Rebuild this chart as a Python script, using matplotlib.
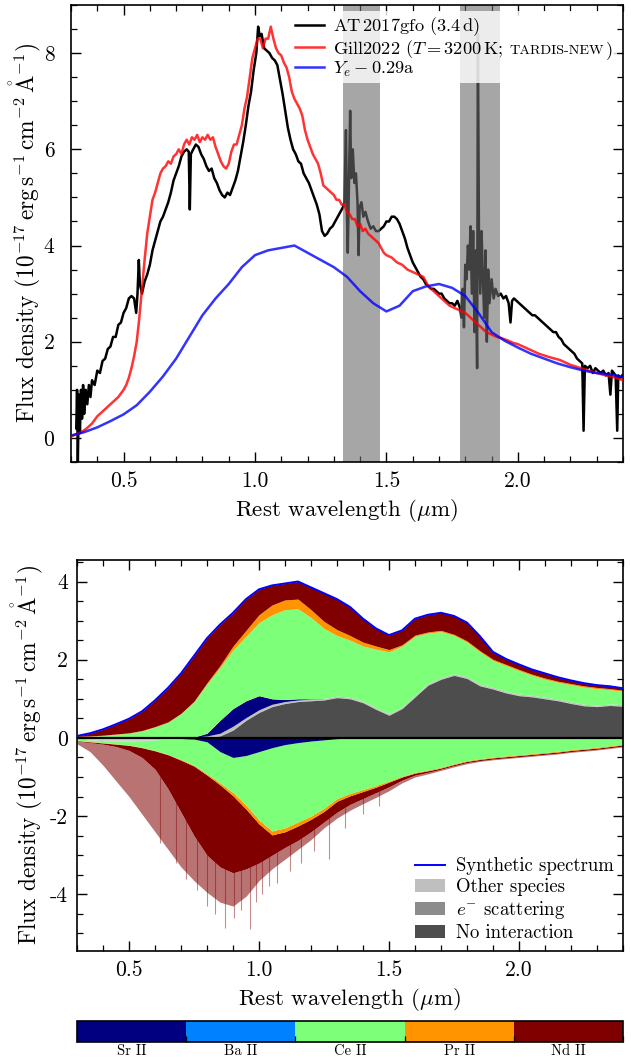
import numpy as np
import matplotlib
matplotlib.use("Agg")
import matplotlib.pyplot as plt
from matplotlib.colors import ListedColormap, BoundaryNorm
from matplotlib.cm import ScalarMappable
from matplotlib.lines import Line2D
from matplotlib.patches import Patch
from matplotlib.ticker import MultipleLocator
from matplotlib.offsetbox import TextArea, HPacker

plt.rcParams.update({
    "font.family": "serif",
    "font.serif": ["cmr10"],
    "mathtext.fontset": "cm",
    "axes.unicode_minus": False,
    "axes.linewidth": 1.2,
    "xtick.direction": "in",
    "ytick.direction": "in",
    "xtick.top": True,
    "ytick.right": True,
    "xtick.major.size": 7,
    "ytick.major.size": 7,
    "xtick.minor.size": 4,
    "ytick.minor.size": 4,
    "xtick.major.width": 1.0,
    "ytick.major.width": 1.0,
    "xtick.minor.width": 0.9,
    "ytick.minor.width": 0.9,
})

# ---------------- top panel data ----------------
obs = [(0.320, 0.2), (0.323, 1.0), (0.326, -0.5), (0.330, 0.9), (0.334, 0.1), (0.338, 1.0),
       (0.342, 0.4), (0.346, 1.1), (0.350, 0.5), (0.356, 1.0), (0.362, 0.7), (0.368, 1.1),
       (0.374, 0.85), (0.380, 1.2), (0.390, 1.1), (0.400, 1.4), (0.410, 1.35), (0.420, 1.6),
       (0.430, 1.65), (0.440, 1.85), (0.450, 1.9), (0.460, 2.1), (0.470, 2.1), (0.480, 2.35),
       (0.490, 2.4), (0.500, 2.6), (0.510, 2.7), (0.520, 2.9), (0.530, 2.95), (0.540, 2.9),
       (0.548, 2.6), (0.553, 3.0), (0.558, 3.7), (0.562, 3.2), (0.570, 3.0), (0.580, 3.25),
       (0.590, 3.4), (0.600, 3.6), (0.610, 3.9), (0.620, 4.1), (0.630, 4.3), (0.640, 4.5),
       (0.650, 4.6), (0.660, 4.75), (0.670, 4.9), (0.680, 5.1), (0.690, 5.35), (0.700, 5.5),
       (0.710, 5.65), (0.720, 5.85), (0.730, 5.95), (0.740, 6.0), (0.748, 5.95), (0.752, 4.75),
       (0.756, 5.9), (0.765, 6.0), (0.775, 6.1), (0.785, 6.05), (0.795, 5.9), (0.805, 5.8),
       (0.815, 5.65), (0.825, 5.55), (0.835, 5.6), (0.845, 5.4), (0.855, 5.3), (0.865, 5.15),
       (0.875, 5.05), (0.885, 5.0), (0.895, 5.1), (0.905, 5.05), (0.915, 5.2), (0.925, 5.35),
       (0.935, 5.55), (0.945, 5.85), (0.955, 6.15), (0.965, 6.5), (0.975, 6.9), (0.985, 7.2),
       (0.995, 7.65), (1.005, 8.0), (1.012, 8.55), (1.018, 8.35), (1.025, 8.4), (1.035, 8.1),
       (1.045, 8.05), (1.055, 8.0), (1.065, 7.9), (1.075, 7.85), (1.085, 7.75), (1.095, 7.45),
       (1.105, 7.15), (1.115, 6.8), (1.125, 6.45), (1.135, 6.2), (1.145, 6.0), (1.155, 5.9),
       (1.165, 5.75), (1.175, 5.7), (1.185, 5.5), (1.195, 5.4), (1.205, 5.3), (1.215, 5.15),
       (1.225, 5.0), (1.235, 4.85), (1.245, 4.65), (1.255, 4.3), (1.265, 4.2), (1.275, 4.25),
       (1.285, 4.35), (1.295, 4.4), (1.305, 4.5), (1.315, 4.6), (1.325, 4.7), (1.335, 4.8),
       (1.340, 4.9), (1.346, 6.4), (1.350, 4.6), (1.353, 3.85), (1.357, 5.2), (1.362, 6.8),
       (1.366, 5.4), (1.372, 6.0), (1.378, 5.3), (1.384, 5.5), (1.390, 4.9), (1.394, 3.8),
       (1.398, 4.8), (1.405, 4.9), (1.412, 4.6), (1.420, 4.7), (1.430, 4.5), (1.440, 4.35),
       (1.450, 4.4), (1.460, 4.3), (1.470, 4.3), (1.480, 4.35), (1.490, 4.4), (1.500, 4.5),
       (1.510, 4.5), (1.520, 4.6), (1.530, 4.6), (1.540, 4.55), (1.550, 4.45), (1.560, 4.3),
       (1.570, 4.15), (1.580, 3.95), (1.590, 3.8), (1.600, 3.65), (1.610, 3.55), (1.620, 3.45),
       (1.630, 3.35), (1.640, 3.3), (1.650, 3.2), (1.660, 3.15), (1.670, 3.1), (1.680, 3.1),
       (1.690, 3.05), (1.700, 3.0), (1.710, 3.0), (1.720, 2.9), (1.730, 2.85), (1.740, 2.8),
       (1.750, 2.8), (1.760, 2.75), (1.770, 2.85), (1.780, 2.7), (1.785, 2.5), (1.790, 3.1),
       (1.795, 2.3), (1.800, 3.6), (1.805, 3.3), (1.810, 4.0), (1.815, 3.5), (1.820, 4.4),
       (1.825, 3.0), (1.830, 4.3), (1.835, 2.2), (1.840, 3.9), (1.845, 1.45), (1.848, 8.4),
       (1.852, 4.2), (1.857, 3.0), (1.862, 4.3), (1.867, 3.3), (1.872, 2.5), (1.877, 3.9),
       (1.882, 2.0), (1.887, 3.5), (1.892, 2.8), (1.900, 3.3), (1.908, 2.9), (1.915, 3.1),
       (1.925, 2.95), (1.935, 3.0), (1.945, 2.9), (1.955, 2.95), (1.965, 2.8), (1.972, 2.4),
       (1.978, 2.85), (1.985, 2.9), (1.995, 2.85), (2.005, 2.8), (2.015, 2.75), (2.025, 2.7),
       (2.035, 2.65), (2.045, 2.6), (2.055, 2.55), (2.065, 2.55), (2.075, 2.5), (2.085, 2.45),
       (2.095, 2.4), (2.105, 2.35), (2.115, 2.3), (2.125, 2.25), (2.135, 2.2), (2.145, 2.2),
       (2.155, 2.1), (2.165, 2.05), (2.175, 1.95), (2.185, 1.9), (2.195, 1.85), (2.205, 1.8),
       (2.215, 1.75), (2.225, 1.65), (2.235, 1.6), (2.245, 1.55), (2.250, 0.15), (2.255, 1.5),
       (2.265, 1.45), (2.275, 1.5), (2.285, 1.35), (2.295, 1.45), (2.305, 1.4), (2.315, 1.35),
       (2.325, 1.4), (2.335, 1.3), (2.345, 1.35), (2.352, 0.9), (2.358, 1.4), (2.365, 1.35),
       (2.372, 1.3), (2.378, 0.15), (2.382, 1.3), (2.390, 1.25), (2.397, 1.3)]
obs_wave = [p[0] for p in obs]
obs_flux = [p[1] for p in obs]

gill = [(0.300, 0.03), (0.320, 0.08), (0.340, 0.12), (0.360, 0.2), (0.380, 0.3), (0.400, 0.45),
        (0.420, 0.55), (0.440, 0.65), (0.460, 0.75), (0.480, 0.85), (0.500, 1.0), (0.510, 1.1),
        (0.520, 1.25), (0.530, 1.45), (0.540, 1.7), (0.550, 2.0), (0.560, 2.5), (0.570, 3.1),
        (0.580, 3.7), (0.590, 4.25), (0.600, 4.6), (0.610, 4.95), (0.620, 5.1), (0.630, 5.3),
        (0.640, 5.5), (0.650, 5.6), (0.660, 5.65), (0.670, 5.75), (0.680, 5.7), (0.690, 5.85),
        (0.700, 5.9), (0.710, 6.0), (0.720, 5.9), (0.730, 6.1), (0.740, 6.2), (0.750, 6.1),
        (0.760, 6.25), (0.770, 6.2), (0.780, 6.3), (0.790, 6.15), (0.800, 6.25), (0.810, 6.2),
        (0.820, 6.3), (0.830, 6.2), (0.840, 6.25), (0.850, 6.05), (0.860, 5.9), (0.870, 5.75),
        (0.880, 5.65), (0.890, 5.6), (0.900, 5.7), (0.910, 5.95), (0.920, 6.1), (0.930, 6.1),
        (0.940, 6.3), (0.950, 6.5), (0.960, 6.85), (0.970, 7.1), (0.980, 7.5), (0.990, 7.9),
        (1.000, 8.1), (1.010, 8.3), (1.020, 8.3), (1.030, 8.1), (1.040, 8.3), (1.050, 8.3),
        (1.060, 8.55), (1.070, 8.3), (1.080, 8.1), (1.090, 8.0), (1.100, 7.95), (1.110, 7.8),
        (1.120, 7.7), (1.130, 7.5), (1.140, 7.2), (1.150, 7.05), (1.160, 6.95), (1.170, 6.85),
        (1.180, 6.7), (1.190, 6.4), (1.200, 6.2), (1.210, 6.05), (1.220, 5.9), (1.230, 5.8),
        (1.240, 5.7), (1.250, 5.5), (1.260, 5.25), (1.270, 5.2), (1.280, 5.15), (1.290, 5.1),
        (1.300, 5.05), (1.310, 4.95), (1.320, 4.95), (1.330, 4.85), (1.340, 4.85), (1.350, 4.7),
        (1.360, 4.65), (1.370, 4.55), (1.380, 4.55), (1.390, 4.4), (1.400, 4.45), (1.410, 4.3),
        (1.420, 4.35), (1.430, 4.25), (1.440, 4.2), (1.450, 4.15), (1.460, 4.1), (1.470, 4.05),
        (1.480, 3.95), (1.490, 3.85), (1.500, 3.8), (1.520, 3.75), (1.540, 3.65), (1.560, 3.6),
        (1.580, 3.5), (1.600, 3.45), (1.620, 3.4), (1.640, 3.35), (1.660, 3.15), (1.680, 3.05),
        (1.700, 2.95), (1.720, 2.85), (1.740, 2.75), (1.760, 2.7), (1.780, 2.65), (1.800, 2.6),
        (1.820, 2.5), (1.840, 2.4), (1.860, 2.3), (1.880, 2.2), (1.900, 2.15), (1.920, 2.1),
        (1.940, 2.07), (1.960, 2.03), (1.980, 1.98), (2.000, 1.95), (2.040, 1.85), (2.080, 1.75),
        (2.120, 1.68), (2.160, 1.62), (2.200, 1.52), (2.240, 1.45), (2.280, 1.38), (2.320, 1.32),
        (2.360, 1.27), (2.400, 1.2)]
gill_wave = [p[0] for p in gill]
gill_flux = [p[1] for p in gill]

telluric_lo = [1.333, 1.779]
telluric_hi = [1.474, 1.932]

# ---------------- model (both panels) ----------------
model_wave = [0.30, 0.35, 0.40, 0.45, 0.50, 0.55, 0.60, 0.65, 0.70, 0.75,
              0.80, 0.85, 0.90, 0.95, 1.00, 1.05, 1.10, 1.15, 1.20, 1.25,
              1.30, 1.35, 1.40, 1.45, 1.50, 1.55, 1.60, 1.65, 1.70, 1.75,
              1.80, 1.85, 1.90, 1.95, 2.00, 2.05, 2.10, 2.15, 2.20, 2.25,
              2.30, 2.35, 2.40]
model_total = [0.05, 0.12, 0.22, 0.35, 0.49, 0.68, 0.96, 1.28, 1.65, 2.10,
               2.55, 2.90, 3.20, 3.55, 3.80, 3.90, 3.95, 4.00, 3.85, 3.70,
               3.55, 3.35, 3.05, 2.80, 2.63, 2.75, 3.05, 3.15, 3.20, 3.12,
               2.95, 2.60, 2.20, 2.02, 1.88, 1.75, 1.65, 1.55, 1.47, 1.40,
               1.35, 1.32, 1.27]

# emission side: cumulative upper boundaries of each contribution
noint_top = [0, 0, 0, 0, 0, 0, 0, 0, 0, 0,
             0.01, 0.05, 0.20, 0.45, 0.65, 0.80, 0.88, 0.93, 0.95, 0.97,
             1.03, 1.00, 0.90, 0.73, 0.58, 0.75, 1.05, 1.35, 1.50, 1.60,
             1.52, 1.33, 1.25, 1.15, 1.08, 1.05, 1.00, 0.95, 0.88, 0.82,
             0.80, 0.83, 0.81]
escat_top = [0, 0, 0, 0, 0, 0, 0, 0, 0, 0,
             0.02, 0.06, 0.21, 0.46, 0.66, 0.81, 0.89, 0.94, 0.96, 0.98,
             1.04, 1.01, 0.91, 0.74, 0.59, 0.76, 1.06, 1.36, 1.51, 1.61,
             1.53, 1.34, 1.26, 1.16, 1.09, 1.06, 1.01, 0.96, 0.89, 0.83,
             0.81, 0.84, 0.82]
other_top = [0, 0, 0, 0, 0, 0, 0, 0, 0.01, 0.02,
             0.05, 0.12, 0.30, 0.52, 0.72, 0.86, 0.93, 0.97, 0.99, 1.01,
             1.07, 1.04, 0.94, 0.77, 0.62, 0.79, 1.09, 1.39, 1.54, 1.64,
             1.56, 1.37, 1.29, 1.19, 1.12, 1.09, 1.04, 0.99, 0.92, 0.86,
             0.84, 0.87, 0.85]
sr_top = [0, 0, 0, 0, 0, 0, 0, 0, 0.01, 0.02,
          0.12, 0.45, 0.75, 0.95, 1.08, 1.00, 0.98, 1.00, 1.00, 1.01,
          1.07, 1.04, 0.94, 0.77, 0.62, 0.79, 1.09, 1.39, 1.54, 1.64,
          1.56, 1.37, 1.29, 1.19, 1.12, 1.09, 1.04, 0.99, 0.92, 0.86,
          0.84, 0.87, 0.85]
ce_top = [0.03, 0.04, 0.06, 0.09, 0.12, 0.18, 0.28, 0.40, 0.62, 0.92,
          1.38, 1.80, 2.25, 2.60, 2.95, 3.15, 3.28, 3.30, 3.08, 2.80,
          2.62, 2.50, 2.35, 2.27, 2.20, 2.35, 2.60, 2.68, 2.72, 2.62,
          2.45, 2.20, 1.98, 1.85, 1.72, 1.60, 1.50, 1.42, 1.36, 1.30,
          1.26, 1.23, 1.20]
pr_top = [0.04, 0.05, 0.07, 0.10, 0.13, 0.19, 0.29, 0.41, 0.63, 0.94,
          1.41, 1.85, 2.35, 2.75, 3.15, 3.40, 3.53, 3.55, 3.28, 2.98,
          2.77, 2.62, 2.45, 2.35, 2.26, 2.38, 2.63, 2.71, 2.75, 2.65,
          2.48, 2.23, 2.01, 1.88, 1.75, 1.63, 1.53, 1.45, 1.39, 1.33,
          1.29, 1.26, 1.22]

# absorption side: cumulative lower boundaries
other_neg = [-0.03, -0.05, -0.07, -0.08, -0.08, -0.07, -0.05, -0.03, -0.02, -0.01,
             0, 0, 0, 0, 0, 0, 0, 0, 0, 0,
             0, 0, 0, 0, 0, 0, 0, 0, 0, 0,
             0, 0, 0, 0, 0, 0, 0, 0, 0, 0,
             0, 0, 0]
sr_neg = [-0.03, -0.05, -0.07, -0.08, -0.08, -0.07, -0.05, -0.03, -0.02, -0.03,
          -0.10, -0.35, -0.50, -0.45, -0.35, -0.25, -0.17, -0.12, -0.08, -0.05,
          -0.02, 0, 0, 0, 0, 0, 0, 0, 0, 0,
          0, 0, 0, 0, 0, 0, 0, 0, 0, 0,
          0, 0, 0]
ce_neg = [-0.06, -0.09, -0.12, -0.15, -0.18, -0.24, -0.32, -0.42, -0.55, -0.70,
          -0.92, -1.15, -1.40, -1.72, -2.10, -2.38, -2.30, -2.15, -2.00, -1.80,
          -1.55, -1.42, -1.32, -1.22, -1.10, -0.98, -0.88, -0.82, -0.75, -0.66,
          -0.58, -0.53, -0.49, -0.46, -0.43, -0.40, -0.37, -0.34, -0.30, -0.27,
          -0.24, -0.20, -0.16]
pr_neg = [-0.07, -0.10, -0.13, -0.16, -0.19, -0.25, -0.33, -0.43, -0.57, -0.72,
          -0.95, -1.20, -1.48, -1.82, -2.20, -2.48, -2.40, -2.25, -2.08, -1.88,
          -1.62, -1.48, -1.37, -1.26, -1.13, -1.00, -0.90, -0.84, -0.77, -0.68,
          -0.60, -0.55, -0.51, -0.48, -0.45, -0.42, -0.39, -0.36, -0.32, -0.29,
          -0.26, -0.22, -0.18]
nd_core = [-0.08, -0.12, -0.16, -0.22, -0.32, -0.50, -0.80, -1.30, -1.90, -2.50,
           -3.00, -3.30, -3.45, -3.35, -3.20, -3.00, -2.80, -2.62, -2.40, -2.15,
           -1.90, -1.70, -1.55, -1.40, -1.25, -1.08, -0.95, -0.88, -0.80, -0.71,
           -0.63, -0.58, -0.54, -0.51, -0.48, -0.45, -0.42, -0.39, -0.35, -0.32,
           -0.29, -0.25, -0.21]
nd_tip = [-0.15, -0.35, -0.70, -1.10, -1.50, -1.95, -2.40, -2.85, -3.30, -3.65,
          -3.95, -4.20, -4.30, -4.05, -3.65, -3.35, -3.10, -2.85, -2.60, -2.30,
          -2.05, -1.85, -1.68, -1.52, -1.35, -1.15, -1.00, -0.92, -0.83, -0.74,
          -0.66, -0.60, -0.56, -0.53, -0.50, -0.47, -0.44, -0.41, -0.37, -0.34,
          -0.31, -0.27, -0.23]
nd_spike_wave = [0.62, 0.68, 0.72, 0.76, 0.80, 0.83, 0.87, 0.905, 0.93, 0.965,
                 0.99, 1.01, 1.04, 1.07, 1.12, 1.16, 1.21, 1.27, 1.33, 1.40, 1.46]
nd_spike_flux = [-2.7, -3.2, -3.6, -3.9, -4.3, -4.5, -4.85, -4.6, -4.4, -4.9,
                 -4.2, -4.0, -3.8, -3.7, -3.4, -3.2, -2.9, -3.1, -2.3, -1.95, -1.75]

species = ["Sr II", "Ba II", "Ce II", "Pr II", "Nd II"]

# ---------------- figure ----------------
W, H = 631, 1057
fig = plt.figure(figsize=(W / 100, H / 100), dpi=100)
ax1 = fig.add_axes([71 / W, 1 - 462 / H, 552 / W, 457 / H])
ax2 = fig.add_axes([77 / W, 1 - 951 / H, 546 / W, 391 / H])
cax = fig.add_axes([77 / W, 1 - 1042 / H, 546 / W, 21 / H])

sp_colors = plt.cm.jet(np.linspace(0, 1, len(species)))
LEGFS = 13.2

# top panel
ax1.plot(obs_wave, obs_flux, color="black", lw=1.8, zorder=1,
         label=r"AT$\,$2017gfo (3.4$\,$d)")
for lo, hi in zip(telluric_lo, telluric_hi):
    ax1.axvspan(lo, hi, color="#6b6b6b", alpha=0.6, lw=0, zorder=2)
ax1.plot(gill_wave, gill_flux, color="red", alpha=0.8, lw=1.8, zorder=3,
         label=r"Gill2022 ($T=3200\,$K; TARDIS-NEW)")
ax1.plot(model_wave, model_total, color="blue", alpha=0.8, lw=1.8, zorder=3,
         label=r"$Y_e-0.29$a")
leg1 = ax1.legend(loc="upper right", fontsize=LEGFS, frameon=True, fancybox=False,
                  framealpha=0.8, facecolor="white", edgecolor="none",
                  borderpad=0.2, labelspacing=0.0, handletextpad=0.5,
                  handlelength=1.6, borderaxespad=0.35)
leg1.set_zorder(5)
# small-caps style rendering for the model name
try:
    col = leg1._legend_handle_box.get_children()[0]
    row = col.get_children()[1]
    part_a = TextArea(r"Gill2022 ($T=3200\,$K;", textprops=dict(fontsize=LEGFS))
    part_b = TextArea("TARDIS-NEW", textprops=dict(fontsize=10.2))
    part_c = TextArea(")", textprops=dict(fontsize=LEGFS))
    inner = HPacker(children=[part_a, part_b], align="baseline", pad=0, sep=5)
    outer = HPacker(children=[inner, part_c], align="baseline", pad=0, sep=1)
    outer.set_figure(fig)
    row._children[1] = outer
except Exception:
    pass

ax1.set_xlim(0.3, 2.4)
ax1.set_ylim(-0.5, 9.0)
ax1.xaxis.set_major_locator(MultipleLocator(0.5))
ax1.xaxis.set_minor_locator(MultipleLocator(0.1))
ax1.yaxis.set_major_locator(MultipleLocator(2))
ax1.yaxis.set_minor_locator(MultipleLocator(0.5))

ylab = r"Flux density ($10^{-17}\,$erg$\,$s$^{-1}\,$cm$^{-2}\,\mathring{\mathrm{A}}^{-1}$)"
for ax in (ax1, ax2):
    ax.set_xlabel(r"Rest wavelength ($\mu$m)", fontsize=16.5)
    ax.set_ylabel(ylab, fontsize=16.8)
    ax.tick_params(which="both", labelsize=15.5)
    ax.tick_params(axis="x", which="major", pad=7)
ax1.tick_params(axis="y", which="major", pad=12)
ax2.tick_params(axis="y", which="major", pad=6.5)
ax1.yaxis.set_label_coords(-0.051, 0.5)
ax2.yaxis.set_label_coords(-0.059, 0.5)

# bottom panel
mw = np.array(model_wave)
zero = np.zeros(len(model_wave))
ax2.fill_between(mw, zero, noint_top, color="#4d4d4d", lw=0, zorder=2)
ax2.fill_between(mw, noint_top, escat_top, color="#8c8c8c", lw=0, zorder=2)
ax2.fill_between(mw, escat_top, other_top, color="#bfbfbf", lw=0, zorder=2)
ax2.fill_between(mw, other_top, sr_top, color=sp_colors[0], lw=0, zorder=2)
ax2.fill_between(mw, sr_top, ce_top, color=sp_colors[2], lw=0, zorder=2)
ax2.fill_between(mw, ce_top, pr_top, color=sp_colors[3], lw=0, zorder=2)
ax2.fill_between(mw, pr_top, model_total, color=sp_colors[4], lw=0, zorder=2)

ax2.vlines(nd_spike_wave, nd_spike_flux, -1.0, color=sp_colors[4], lw=0.8,
           alpha=0.45, zorder=1)
ax2.fill_between(mw, nd_core, nd_tip, color=sp_colors[4], alpha=0.55, lw=0, zorder=1)
ax2.fill_between(mw, pr_neg, nd_core, color=sp_colors[4], lw=0, zorder=2)
ax2.fill_between(mw, ce_neg, pr_neg, color=sp_colors[3], lw=0, zorder=2)
ax2.fill_between(mw, sr_neg, ce_neg, color=sp_colors[2], lw=0, zorder=2)
ax2.fill_between(mw, other_neg, sr_neg, color=sp_colors[0], lw=0, zorder=2)
ax2.fill_between(mw, zero, other_neg, color="#bfbfbf", alpha=0.7, lw=0, zorder=2)

ax2.plot(mw, model_total, color="blue", lw=1.4, zorder=3)
ax2.axhline(0, color="black", lw=1.6, zorder=4)

handles = [Line2D([], [], color="blue", lw=1.4),
           Patch(facecolor="#bfbfbf", edgecolor="none"),
           Patch(facecolor="#8c8c8c", edgecolor="none"),
           Patch(facecolor="#4d4d4d", edgecolor="none")]
labels = ["Synthetic spectrum", "Other species", r"$e^{-}$ scattering", "No interaction"]
ax2.legend(handles, labels, loc="lower right", fontsize=13.5, frameon=False,
           labelspacing=0.15, handletextpad=0.6, handlelength=1.6,
           borderaxespad=0.1)
ax2.set_xlim(0.3, 2.4)
ax2.set_ylim(-5.45, 4.55)
ax2.xaxis.set_major_locator(MultipleLocator(0.5))
ax2.xaxis.set_minor_locator(MultipleLocator(0.1))
ax2.yaxis.set_major_locator(MultipleLocator(2))
ax2.yaxis.set_minor_locator(MultipleLocator(0.5))

# species colour bar
cmap = ListedColormap(sp_colors)
norm = BoundaryNorm(np.arange(len(species) + 1), cmap.N)
cb = fig.colorbar(ScalarMappable(norm=norm, cmap=cmap), cax=cax,
                  orientation="horizontal", ticks=np.arange(len(species)) + 0.5)
cb.ax.set_xticklabels(species, fontsize=10.5)
cb.ax.tick_params(length=0, pad=1.5, top=False)
cb.outline.set_linewidth(1.2)

fig.savefig("out.png", dpi=100)
